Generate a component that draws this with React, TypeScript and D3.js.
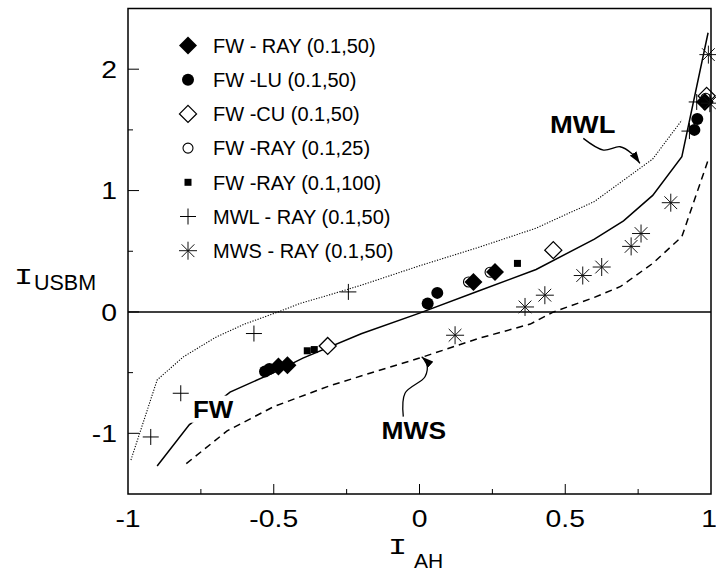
import React from 'react';
import * as d3 from 'd3';

const W = 716;
const H = 576;

// model curves
const fwX = [-0.9, -0.79, -0.65, -0.5, -0.4, -0.2, 0, 0.2, 0.4, 0.6, 0.7, 0.8, 0.9, 0.99];
const fwY = [-1.27, -0.93, -0.66, -0.5, -0.38, -0.18, -0.01, 0.17, 0.35, 0.6, 0.75, 0.96, 1.28, 2.3];
const mwlX = [-0.99, -0.9, -0.81, -0.7, -0.6, -0.485, -0.41, -0.31, -0.2, 0, 0.2, 0.4, 0.6, 0.8, 0.9];
const mwlY = [-1.22, -0.56, -0.37, -0.21, -0.1, 0, 0.07, 0.14, 0.22, 0.38, 0.53, 0.69, 0.91, 1.26, 1.58];
const mwsX = [-0.8, -0.66, -0.5, -0.31, -0.15, 0, 0.2, 0.38, 0.46, 0.6, 0.69, 0.8, 0.9, 0.99];
const mwsY = [-1.25, -0.98, -0.78, -0.61, -0.49, -0.38, -0.22, -0.1, 0, 0.12, 0.21, 0.4, 0.62, 1.25];

// simulation points
const fwRayX = [-0.484, -0.453, 0.185, 0.259, 0.979];
const fwRayY = [-0.45, -0.44, 0.247, 0.33, 1.73];
const fwLuX = [-0.53, -0.515, 0.028, 0.061, 0.943, 0.953];
const fwLuY = [-0.49, -0.47, 0.069, 0.157, 1.5, 1.59];
const fwCuX = [-0.315, 0.459, 0.985];
const fwCuY = [-0.28, 0.509, 1.78];
const fwRay25X = [0.168, 0.242, 0.982];
const fwRay25Y = [0.247, 0.327, 1.76];
const fwRay100X = [-0.385, -0.361, 0.336];
const fwRay100Y = [-0.32, -0.31, 0.4];
const mwlRayX = [-0.922, -0.819, -0.568, -0.244, 0.926, 0.951];
const mwlRayY = [-1.03, -0.67, -0.178, 0.165, 1.49, 1.73];
const mwsRayX = [0.122, 0.362, 0.43, 0.56, 0.625, 0.726, 0.76, 0.862, 0.996, 0.991];
const mwsRayY = [-0.192, 0.041, 0.138, 0.3, 0.37, 0.54, 0.646, 0.9, 1.72, 2.12];

const legendLabels = [
  'FW - RAY (0.1,50)',
  'FW -LU (0.1,50)',
  'FW -CU (0.1,50)',
  'FW -RAY (0.1,25)',
  'FW -RAY (0.1,100)',
  'MWL - RAY (0.1,50)',
  'MWS - RAY (0.1,50)',
];
const legendShapes = ['fdiamond', 'fcircle', 'odiamond', 'ocircle', 'square', 'plus', 'aster'];

const xTicks = [-1, -0.5, 0, 0.5, 1];
const xMinor = [-0.75, -0.25, 0.25, 0.75];
const yTicks = [-1, 0, 1, 2];
const yMinor = [-0.5, 0.5, 1.5];

// annotation arrows (data coords)
const mwlArrowX = [0.562, 0.631, 0.688, 0.728, 0.756];
const mwlArrowY = [1.43, 1.334, 1.361, 1.306, 1.224];
const mwsArrowX = [-0.0556, -0.0497, 0.0189, 0.0247, 0.0075];
const mwsArrowY = [-0.863, -0.67, -0.534, -0.423, -0.369];

const x = d3.scaleLinear().domain([-1, 1]).range([128, 711]);
const y = d3.scaleLinear().domain([-1.5, 2.5]).range([494, 8.5]);

const zip = (xs: number[], ys: number[]) => xs.map((v, i) => [v, ys[i]] as [number, number]);

const line = d3.line<[number, number]>().x(d => x(d[0])).y(d => y(d[1]));
const smooth = d3.line<[number, number]>().x(d => x(d[0])).y(d => y(d[1])).curve(d3.curveCatmullRom);

const SANS = 'Arial, "Liberation Sans", Helvetica, sans-serif';
const MONO = '"Liberation Mono", "Courier New", monospace';

function Marker({ shape, cx, cy }: { shape: string; cx: number; cy: number }) {
  switch (shape) {
    case 'fdiamond': {
      const r = 9;
      return <polygon points={`${cx},${cy - r} ${cx + r},${cy} ${cx},${cy + r} ${cx - r},${cy}`} fill="#000" />;
    }
    case 'odiamond': {
      const r = 8.5;
      return <polygon points={`${cx},${cy - r} ${cx + r},${cy} ${cx},${cy + r} ${cx - r},${cy}`} fill="#fff" stroke="#000" strokeWidth={1.3} />;
    }
    case 'fcircle':
      return <circle cx={cx} cy={cy} r={6} fill="#000" />;
    case 'ocircle':
      return <circle cx={cx} cy={cy} r={5} fill="none" stroke="#000" strokeWidth={1.1} />;
    case 'square':
      return <rect x={cx - 3.5} y={cy - 3.5} width={7} height={7} fill="#000" />;
    case 'plus':
      return (
        <path d={`M${cx - 8},${cy}H${cx + 8}M${cx},${cy - 8}V${cy + 8}`} stroke="#000" strokeWidth={1} fill="none" />
      );
    case 'aster': {
      const r = 9;
      const d = r * Math.SQRT1_2;
      return (
        <path
          d={`M${cx - r},${cy}H${cx + r}M${cx},${cy - r}V${cy + r}M${cx - d},${cy - d}L${cx + d},${cy + d}M${cx - d},${cy + d}L${cx + d},${cy - d}`}
          stroke="#111" strokeWidth={1} fill="none"
        />
      );
    }
    default:
      return null;
  }
}

function Series({ xs, ys, shape }: { xs: number[]; ys: number[]; shape: string }) {
  return (
    <g>
      {xs.map((v, i) => (
        <Marker key={i} shape={shape} cx={x(v)} cy={y(ys[i])} />
      ))}
    </g>
  );
}

function StretchText({ px, py, sx, children, ...rest }: any) {
  return (
    <text transform={`translate(${px},${py}) scale(${sx},1)`} {...rest}>
      {children}
    </text>
  );
}

export default function App() {
  const plotL = x(-1), plotR = x(1), plotT = y(2.5), plotB = y(-1.5);
  const legendY0 = 45.5;
  const legendStep = 34.2;

  return (
    <svg width={W} height={H} style={{ position: 'absolute', left: 0, top: 0, background: '#fff' }} fontFamily={SANS}>
      <defs>
        <marker id="ah" viewBox="0 0 12 8" refX={12} refY={4} markerWidth={12} markerHeight={8} markerUnits="userSpaceOnUse" orient="auto">
          <path d="M0,0 L12,4 L0,8 Z" fill="#000" />
        </marker>
      </defs>
      <rect width={W} height={H} fill="#fff" />

      {/* zero line */}
      <line x1={plotL} x2={plotR} y1={y(0)} y2={y(0)} stroke="#000" strokeWidth={1.5} />

      {/* curves */}
      <path d={line(zip(mwlX, mwlY)) || ''} fill="none" stroke="#000" strokeWidth={1.1} strokeDasharray="1.2,1.5" />
      <path d={line(zip(mwsX, mwsY)) || ''} fill="none" stroke="#000" strokeWidth={1.5} strokeDasharray="7,5" />
      <path d={line(zip(fwX, fwY)) || ''} fill="none" stroke="#000" strokeWidth={1.5} />

      {/* annotations */}
      <rect x={x(-0.79)} y={y(-0.69)} width={46} height={27} fill="#fff" />
      <StretchText px={x(-0.777)} py={y(-0.874)} sx={1.08} fontSize={24} fontWeight="bold">FW</StretchText>
      <StretchText px={x(0.448)} py={y(1.471)} sx={1.14} fontSize={24} fontWeight="bold">MWL</StretchText>
      <StretchText px={x(-0.13)} py={y(-1.047)} sx={1.1} fontSize={24} fontWeight="bold">MWS</StretchText>
      <path d={smooth(zip(mwlArrowX, mwlArrowY)) || ''} fill="none" stroke="#000" strokeWidth={1.3} markerEnd="url(#ah)" />
      <path d={smooth(zip(mwsArrowX, mwsArrowY)) || ''} fill="none" stroke="#000" strokeWidth={1.3} markerEnd="url(#ah)" />

      {/* data points */}
      <Series xs={fwCuX} ys={fwCuY} shape="odiamond" />
      <Series xs={fwRay25X} ys={fwRay25Y} shape="ocircle" />
      <Series xs={fwRayX} ys={fwRayY} shape="fdiamond" />
      <Series xs={fwLuX} ys={fwLuY} shape="fcircle" />
      <Series xs={fwRay100X} ys={fwRay100Y} shape="square" />
      <Series xs={mwlRayX} ys={mwlRayY} shape="plus" />
      <Series xs={mwsRayX} ys={mwsRayY} shape="aster" />

      {/* frame */}
      <rect x={plotL} y={plotT} width={plotR - plotL} height={plotB - plotT} fill="none" stroke="#000" strokeWidth={1.5} />

      {/* ticks */}
      {xTicks.slice(1, -1).map(t => (
        <line key={'xt' + t} x1={x(t)} x2={x(t)} y1={plotB} y2={plotB - 10} stroke="#000" strokeWidth={1} />
      ))}
      {xMinor.map(t => (
        <line key={'xm' + t} x1={x(t)} x2={x(t)} y1={plotB} y2={plotB - 5} stroke="#000" strokeWidth={1} />
      ))}
      {yTicks.map(t => (
        <line key={'yt' + t} x1={plotL} x2={plotL + 11} y1={y(t)} y2={y(t)} stroke="#000" strokeWidth={1} />
      ))}
      {yMinor.map(t => (
        <line key={'ym' + t} x1={plotL} x2={plotL + 5} y1={y(t)} y2={y(t)} stroke="#000" strokeWidth={1} />
      ))}

      {/* tick labels */}
      {xTicks.map(t => (
        <StretchText key={'xl' + t} px={t === 1 ? x(t) - 2 : x(t)} py={527} sx={1.18} fontSize={24} textAnchor="middle">
          {String(t)}
        </StretchText>
      ))}
      {yTicks.map(t => (
        <StretchText key={'yl' + t} px={117} py={y(t) + 8.6} sx={1.18} fontSize={24} textAnchor="end">
          {String(t)}
        </StretchText>
      ))}

      {/* axis titles */}
      <StretchText px={388} py={554} sx={1.45} fontSize={22} fontFamily={MONO}>I</StretchText>
      <text x={414} y={568} fontSize={21}>AH</text>
      <StretchText px={14} py={284} sx={1.45} fontSize={22} fontFamily={MONO}>I</StretchText>
      <text x={34} y={290} fontSize={21.5}>USBM</text>

      {/* legend */}
      {legendLabels.map((lab, i) => {
        const cy = legendY0 + i * legendStep;
        return (
          <g key={lab}>
            <Marker shape={legendShapes[i]} cx={188} cy={cy} />
            <text x={213} y={cy + 7.3} fontSize={20}>{lab}</text>
          </g>
        );
      })}
    </svg>
  );
}
